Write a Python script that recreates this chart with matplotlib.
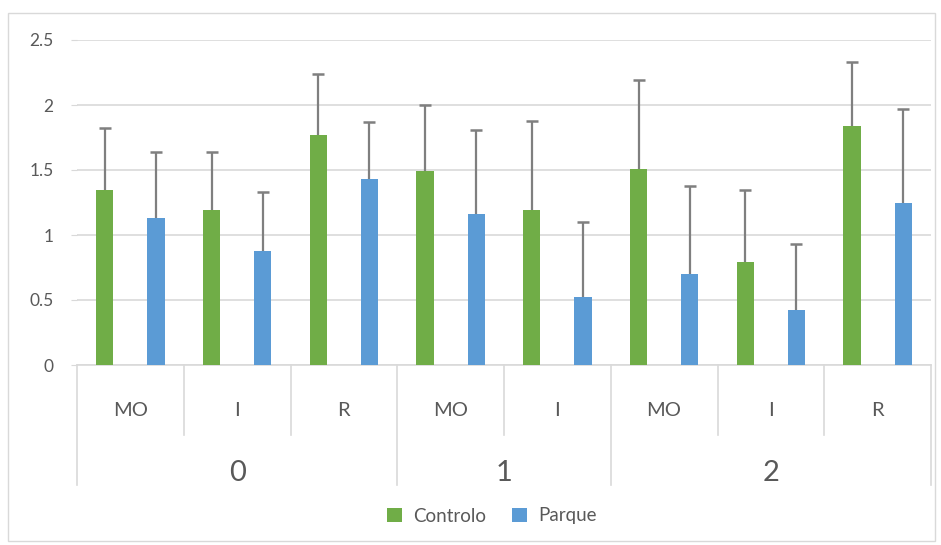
import matplotlib
matplotlib.use("Agg")
import matplotlib.pyplot as plt
from matplotlib.patches import Rectangle, Patch
from matplotlib.lines import Line2D
import numpy as np

# ---- data ----
groups = ["0", "1", "2"]
group_sizes = [3, 2, 3]
categories = ["MO", "I", "R", "MO", "I", "MO", "I", "R"]
controlo = [1.35, 1.19, 1.77, 1.49, 1.19, 1.51, 0.79, 1.84]
controlo_err = [0.47, 0.45, 0.47, 0.51, 0.69, 0.68, 0.56, 0.49]
parque = [1.13, 0.88, 1.43, 1.16, 0.52, 0.70, 0.42, 1.25]
parque_err = [0.51, 0.45, 0.44, 0.65, 0.58, 0.68, 0.51, 0.72]
yticks = [0, 0.5, 1, 1.5, 2, 2.5]
ytick_labels = ["0", "0.5", "1", "1.5", "2", "2.5"]
series_names = ["Controlo", "Parque"]

GREEN = "#70AD47"
BLUE = "#5B9BD5"
TXT = "#595959"
GRID = "#D9D9D9"
ERR = "#7F7F7F"

plt.rcParams["font.family"] = ["Lato", "DejaVu Sans"]

W, H = 941, 545
fig = plt.figure(figsize=(W / 100, H / 100), dpi=100)

# outer chart border
fig.patches.append(Rectangle((8 / W, 1 - 541 / H), (935 - 8) / W, (541 - 13) / H,
                             transform=fig.transFigure, fill=False,
                             edgecolor=GRID, linewidth=1.0))

x0, x1, ytop, ybot = 77, 931, 40, 365
ax = fig.add_axes([x0 / W, 1 - ybot / H, (x1 - x0) / W, (ybot - ytop) / H])

n = len(categories)
x = np.arange(n)
off = 0.24
bw = 0.16
ax.bar(x - off, controlo, bw, color=GREEN, zorder=3)
ax.bar(x + off, parque, bw, color=BLUE, zorder=3)

# plus-only error bars (no cap at bar top)
for xs, vals, errs in [(x - off, controlo, controlo_err), (x + off, parque, parque_err)]:
    vals = np.asarray(vals)
    tops = vals + np.asarray(errs)
    ax.vlines(xs, vals, tops, colors=ERR, linewidth=1.6, zorder=4)
    ax.plot(xs, tops, linestyle="none", marker="_", markersize=8,
            markeredgewidth=1.8, color=ERR, zorder=4)

ax.set_xlim(-0.5, n - 0.5)
ax.set_ylim(0, 2.5)
ax.set_yticks(yticks)
ax.set_yticklabels(ytick_labels, color=TXT, fontsize=12.5)
ax.tick_params(axis="y", length=4, color=GRID, pad=13)
ax.set_xticks([])
ax.grid(axis="y", color=GRID, linewidth=1.2, zorder=0)
for s in ["top", "right", "left"]:
    ax.spines[s].set_visible(False)
ax.spines["bottom"].set_color(GRID)
ax.spines["bottom"].set_linewidth(1.2)

def py(p):
    return (ybot - p) / (ybot - ytop)

# category labels
for i, c in enumerate(categories):
    ax.text(i, py(410), c, transform=ax.get_xaxis_transform(), ha="center",
            va="center", fontsize=14.5, color=TXT)

# dividers
bounds = np.cumsum([0] + group_sizes)
group_edges = set(bounds.tolist())
for b in range(n + 1):
    xb = b - 0.5
    ylow = py(485) if b in group_edges else py(435)
    ax.add_line(Line2D([xb, xb], [0, ylow], transform=ax.get_xaxis_transform(),
                       color=GRID, linewidth=1.2, clip_on=False))

# group labels
for g, name in enumerate(groups):
    xc = (bounds[g] + bounds[g + 1]) / 2 - 0.5
    ax.text(xc, py(473), name, transform=ax.get_xaxis_transform(), ha="center",
            va="center", fontsize=21, color=TXT)

handles = [Patch(facecolor=GREEN), Patch(facecolor=BLUE)]
leg = ax.legend(handles, series_names, loc="center", bbox_to_anchor=((492 - x0) / (x1 - x0), py(516)),
                ncol=2, frameon=False, fontsize=13.5, handlelength=0.8, handleheight=0.8,
                handletextpad=0.6, columnspacing=1.4, labelcolor=TXT)

fig.savefig("out.png", dpi=100)
